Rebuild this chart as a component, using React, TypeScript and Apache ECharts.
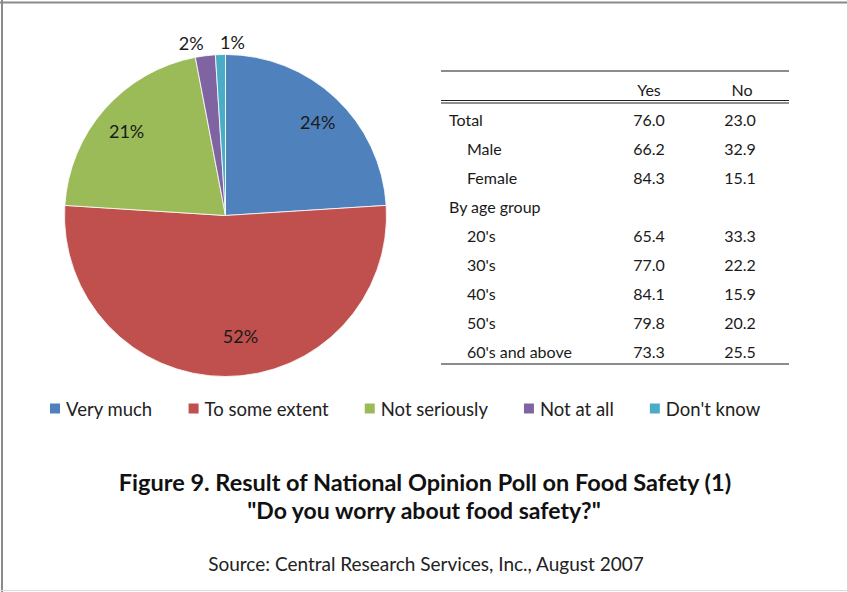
import React, { useEffect, useRef } from "react";
import * as echarts from "echarts";

const categories = ["Very much", "To some extent", "Not seriously", "Not at all", "Don't know"];
const shares = [24, 52, 21, 2, 1];
const sliceColors = ["#4F81BD", "#C0504D", "#9BBB59", "#8064A2", "#4BACC6"];

const tableHeaders = ["Yes", "No"];
const rowLabels = ["Total", "Male", "Female", "By age group", "20's", "30's", "40's", "50's", "60's and above"];
const rowIndented = [false, true, true, false, true, true, true, true, true];
const yesValues: (number | null)[] = [76.0, 66.2, 84.3, null, 65.4, 77.0, 84.1, 79.8, 73.3];
const noValues: (number | null)[] = [23.0, 32.9, 15.1, null, 33.3, 22.2, 15.9, 20.2, 25.5];

const titleLines = ["Figure 9. Result of National Opinion Poll on Food Safety (1)", "\"Do you worry about food safety?\""];
const sourceText = "Source: Central Research Services, Inc., August 2007";

const FONT = "Lato, 'Noto Sans', sans-serif";

export default function App() {
  const ref = useRef<HTMLDivElement>(null);
  useEffect(() => {
    document.body.style.margin = "0";
    const chart = echarts.init(ref.current!, null, { renderer: "svg" });
    const cx = 225.5;
    const cy = 215.5;
    const R = 161;

    const graphic: any[] = [];
    // frame
    graphic.push({ type: "line", shape: { x1: 0, y1: 2.5, x2: 848, y2: 2.5 }, style: { stroke: "#8a8a8a", lineWidth: 2 } });
    graphic.push({ type: "line", shape: { x1: 2, y1: 0, x2: 2, y2: 592 }, style: { stroke: "#8a8a8a", lineWidth: 2 } });
    graphic.push({ type: "line", shape: { x1: 847.5, y1: 0, x2: 847.5, y2: 592 }, style: { stroke: "#d4d4d4", lineWidth: 1 } });
    graphic.push({ type: "line", shape: { x1: 0, y1: 590.5, x2: 848, y2: 590.5 }, style: { stroke: "#dcdcdc", lineWidth: 1 } });

    // table
    const tx0 = 441;
    const tx1 = 789;
    const colX = [649, 740];
    const headX = [649, 742];
    graphic.push({ type: "line", shape: { x1: tx0, y1: 71, x2: tx1, y2: 71 }, style: { stroke: "#666", lineWidth: 1.5 } });
    graphic.push({ type: "line", shape: { x1: tx0, y1: 100.5, x2: tx1, y2: 100.5 }, style: { stroke: "#222", lineWidth: 1.2 } });
    graphic.push({ type: "line", shape: { x1: tx0, y1: 103, x2: tx1, y2: 103 }, style: { stroke: "#222", lineWidth: 1.2 } });
    graphic.push({ type: "line", shape: { x1: tx0, y1: 364, x2: tx1, y2: 364 }, style: { stroke: "#666", lineWidth: 1.5 } });
    const textEl = (text: string, x: number, y: number, align: string, font: string, fill = "#1a1a1a") => ({
      type: "text",
      style: { text, x, y, align, verticalAlign: "middle", textAlign: align, textVerticalAlign: "middle", font, fill },
    });
    tableHeaders.forEach((h, i) => graphic.push(textEl(h, headX[i], 89.5, "center", `16px ${FONT}`)));
    rowLabels.forEach((lab, i) => {
      const y = 119.5 + i * 29;
      graphic.push(textEl(lab, rowIndented[i] ? 467 : 449, y, "left", `16px ${FONT}`));
      const yv = yesValues[i];
      const nv = noValues[i];
      if (yv != null) graphic.push(textEl(yv.toFixed(1), colX[0], y, "center", `16px ${FONT}`));
      if (nv != null) graphic.push(textEl(nv.toFixed(1), colX[1], y, "center", `16px ${FONT}`));
    });

    // titles
    graphic.push(textEl(titleLines[0], 425, 481.5, "center", `bold 23.5px ${FONT}`, "#111"));
    graphic.push(textEl(titleLines[1], 424, 509.5, "center", `bold 23px ${FONT}`, "#111"));
    graphic.push(textEl(sourceText, 426, 563, "center", `19px ${FONT}`, "#222"));

    const pieData = categories.map((name, i) => ({
      name,
      value: shares[i],
      itemStyle: { color: sliceColors[i] },
      label: { show: i >= 3 },
    }));
    const labelData = categories.map((name, i) => ({
      name,
      value: shares[i],
      label: { show: i < 3 },
    }));
    const innerLabelShift = [
      { dx: 2, dy: 3 },
      { dx: 15, dy: -11 },
      { dx: 0, dy: 3 },
    ];

    chart.setOption({
      animation: false,
      color: sliceColors,
      legend: {
        data: categories,
        left: 48,
        top: 399,
        padding: 0,
        orient: "horizontal",
        icon: "rect",
        itemWidth: 12,
        itemHeight: 12,
        itemGap: 34,
        selectedMode: false,
        textStyle: { fontFamily: FONT, fontSize: 18.5, color: "#222" },
      },
      graphic,
      series: [
        {
          type: "pie",
          center: [cx, cy],
          radius: R,
          startAngle: 90,
          clockwise: true,
          avoidLabelOverlap: false,
          silent: true,
          data: pieData,
          itemStyle: { borderColor: "#fff", borderWidth: 0.8 },
          label: {
            position: "outside",
            formatter: "{c}%",
            fontFamily: FONT,
            fontSize: 18,
            color: "#1a1a1a",
            distanceToLabelLine: 0,
          },
          labelLine: { show: false, length: 13, length2: 0 },
          labelLayout: (p: any) => (p.dataIndex === 4 ? { align: "left" } : {}),
        },
        {
          type: "pie",
          center: [cx, cy],
          radius: [R * 0.6, R],
          startAngle: 90,
          clockwise: true,
          silent: true,
          data: labelData,
          itemStyle: { color: "rgba(0,0,0,0)", borderWidth: 0 },
          label: {
            position: "inside",
            formatter: "{c}%",
            fontFamily: FONT,
            fontSize: 18,
            color: "#1a1a1a",
          },
          labelLine: { show: false },
          labelLayout: (p: any) => innerLabelShift[p.dataIndex] || {},
        },
      ],
    });
    return () => chart.dispose();
  }, []);
  return <div ref={ref} style={{ position: "fixed", left: 0, top: 0, width: 848, height: 592, background: "#fff" }} />;
}
